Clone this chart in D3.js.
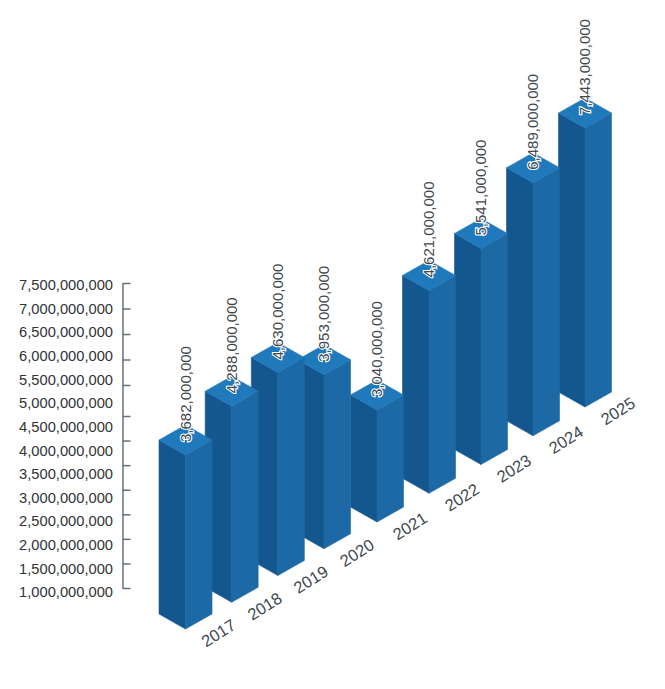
<!DOCTYPE html>
<html>
<head>
	<title>Isometric Bar Chart</title>
	<style type="text/css">
		html, body {
			background: #fff;
			margin: 0;
			padding: 0;
		}

		svg {
			display: block;
			font-family: "Liberation Sans", Arial, sans-serif;
		}

		.y-labels text {
			fill: #2f3336;
			font-size: 14.7px;
		}

		.y-marks path, .y-marks line {
			fill: none;
			stroke: #66727a;
			stroke-width: 1.5px;
		}

		.year {
			fill: #3b474f;
			font-size: 16.5px;
		}

		.value {
			fill: #3f484d;
			font-size: 15px;
			paint-order: stroke;
			stroke: #fff;
			stroke-width: 2.2px;
		}
	</style>
	<script src="https://d3js.org/d3.v7.min.js"></script>
</head>
<body>
<div class="container"></div>
<script type="text/javascript">
	var years = [2017, 2018, 2019, 2020, 2021, 2022, 2023, 2024, 2025];
	var values = [3682000000, 4288000000, 4630000000, 3953000000, 3040000000, 4621000000, 5541000000, 6489000000, 7443000000];
	var axisLabels = [1000000000, 1500000000, 2000000000, 2500000000, 3000000000, 3500000000, 4000000000, 4500000000, 5000000000, 5500000000, 6000000000, 6500000000, 7000000000, 7500000000];
	var axisMarks = axisLabels.slice(1);

	var svg = d3.select(".container").append("svg")
		.attr("width", 665)
		.attr("height", 689);

	// half the width and half the depth of a bar's diamond top
	var halfW = 26.5,
		halfD = 15;

	// the picture is warped, so these scales are piecewise, not straight
	var x = d3.scaleLinear().domain([2017, 2020, 2021, 2025]).range([185.5, 324, 377, 585]),
		base = d3.scaleLinear().domain([2017, 2021, 2025]).range([629, 522, 407]),
		barH = d3.scaleLinear()
			.domain([3040000000, 3682000000, 3953000000, 4288000000, 4630000000, 5541000000, 6489000000, 7443000000])
			.range([112, 174, 174, 196, 203, 216, 253, 279]);

	var yLabels = d3.scaleLinear().domain([1000000000, 7500000000]).range([592, 285]),
		yMarks = d3.scaleLinear()
			.domain([1500000000, 5000000000, 5500000000, 7500000000])
			.range([588, 416, 385, 283]);

	var bars = years.map(function(d, i) {
		var fx = x(d),
			by = base(d),
			ty = by - barH(values[i]);
		return {year: d, value: values[i], fx: fx, by: by, ty: ty};
	});

	function poly(pts) {
		return "M" + pts.map(function(p) { return p.join(","); }).join("L") + "Z";
	}

	// back to front, so the nearer bars cover the ones behind
	var g = svg.append("g")
		.selectAll("g")
		.data(bars.slice().reverse())
		.enter().append("g");

	g.append("path")
		.attr("fill", "#14578e")
		.attr("stroke", "#14578e")
		.attr("stroke-width", 0.6)
		.attr("d", function(d) {
			return poly([[d.fx - halfW, d.ty - halfD], [d.fx, d.ty], [d.fx, d.by], [d.fx - halfW, d.by - halfD]]);
		});

	g.append("path")
		.attr("fill", "#1c69a6")
		.attr("stroke", "#1c69a6")
		.attr("stroke-width", 0.6)
		.attr("d", function(d) {
			return poly([[d.fx, d.ty], [d.fx + halfW, d.ty - halfD], [d.fx + halfW, d.by - halfD], [d.fx, d.by]]);
		});

	g.append("path")
		.attr("fill", "#2079ba")
		.attr("stroke", "#2079ba")
		.attr("stroke-width", 0.6)
		.attr("d", function(d) {
			return poly([[d.fx - halfW, d.ty - halfD], [d.fx, d.ty - 2 * halfD], [d.fx + halfW, d.ty - halfD], [d.fx, d.ty]]);
		});

	svg.append("g")
		.attr("class", "y-labels")
		.attr("transform", "translate(113,0)")
		.call(d3.axisLeft(yLabels)
			.tickValues(axisLabels)
			.tickSize(0)
			.tickPadding(0)
			.tickFormat(d3.format(",")))
		.call(function(a) { a.select(".domain").remove(); });

	svg.selectAll("g.y-labels text").style("font-family", "inherit");

	svg.append("g")
		.attr("class", "y-marks")
		.attr("transform", "translate(122.5,0)")
		.call(d3.axisRight(yMarks)
			.tickValues(axisMarks)
			.tickSize(8)
			.tickSizeOuter(0)
			.tickFormat(""));

	svg.selectAll(".year")
		.data(bars)
		.enter().append("text")
			.attr("class", "year")
			.attr("text-anchor", "middle")
			.attr("dy", "0.35em")
			.attr("transform", function(d) {
				return "translate(" + (d.fx + 33) + "," + (d.by + 4) + ") rotate(-32)";
			})
			.text(function(d) { return d.year; });

	svg.selectAll(".value")
		.data(bars)
		.enter().append("text")
			.attr("class", "value")
			.attr("text-anchor", "start")
			.attr("dy", "0.35em")
			.attr("transform", function(d) {
				return "translate(" + d.fx + "," + (d.ty - halfD + 2) + ") rotate(-90)";
			})
			.text(function(d) { return d3.format(",")(d.value); });
</script>
</body>
</html>
